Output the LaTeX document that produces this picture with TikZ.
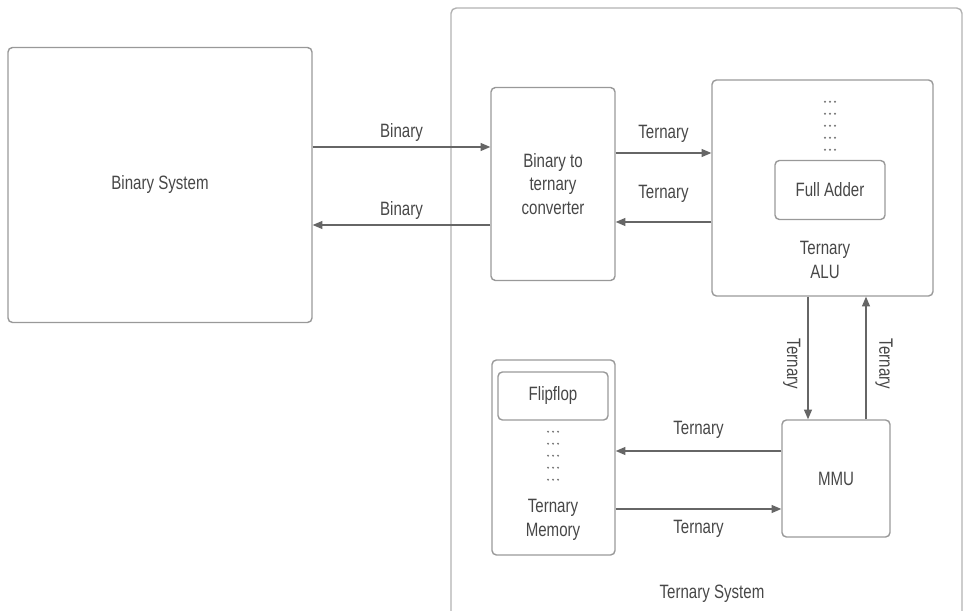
\documentclass[tikz,border=0pt]{standalone}
\usepackage{fontspec}
\setmainfont[FakeStretch=0.78]{Liberation Sans}
\usetikzlibrary{calc, positioning}
\usetikzlibrary{arrows.meta}
\tikzset{>={Triangle[width=4.5pt,length=5.5pt]}}

\begin{document}
\begin{tikzpicture}[x=0.02cm, y=-0.02cm, font=\fontsize{11}{13.5}\selectfont, text=black!72,
    block/.style={draw=black!40, line width=0.8pt, rounded corners=2.5pt, align=center, inner sep=0pt},
    tag/.style={draw=none, fill=none, inner sep=0pt},
    link/.style={->, draw=black!60, line width=0.7pt},
    dot/.style={fill=black!55}]

    \useasboundingbox (0,0) rectangle (965,611);

    %Outer ternary system frame (runs off the bottom)
    \draw[draw=black!30, line width=0.8pt, rounded corners=3pt] (451,650) -- (451,8) -- (962,8) -- (962,650);
    \node[tag](ternsys) at (712,594){Ternary System};

    %Nodes
    \node[block, minimum width=6.08cm, minimum height=5.5cm](binsys) at (160,185){Binary System};
    \node[block, minimum width=2.48cm, minimum height=3.86cm](conv) at (553,184){Binary to\\ternary\\converter};
    \node[block, minimum width=4.42cm, minimum height=4.32cm](alu) at (822.5,188){};
    \node[block, minimum width=2.2cm, minimum height=1.18cm](adder) at (830,190){Full Adder};
    \node[tag, align=center](alu_text) at (825,260){Ternary\\ALU};
    \node[block, minimum width=2.46cm, minimum height=3.9cm](mem) at (553.5,457.5){};
    \node[block, minimum width=2.2cm, minimum height=0.96cm](flipflop) at (553,396){Flipflop};
    \node[tag, align=center](mem_text) at (553,520){Ternary\\Memory};
    \node[block, minimum width=2.16cm, minimum height=2.34cm](mmu) at (836,478.5){MMU};

    %Dotted stacks
    \foreach \r in {0,...,4}
      \foreach \c in {-5,0,5} {
        \fill[dot] ($(adder.north)+(\c,-10-12*\r)$) circle (0.6pt);
        \fill[dot] ($(flipflop.south)+(\c,11+12*\r)$) circle (0.6pt);
      }

    %Port coordinates
    \coordinate (conv_in) at ($(conv.west)+(0,-37)$);
    \coordinate (bin_in) at ($(binsys.east)+(0,40)$);
    \coordinate (alu_in) at ($(alu.west)+(0,-35)$);
    \coordinate (conv_back) at ($(conv.east)+(0,38)$);
    \coordinate (mmu_in) at ($(mmu.north)+(-28,0)$);
    \coordinate (alu_back) at ($(mmu.north)+(30,0)$);
    \coordinate (mem_in) at ($(mem.east)+(0,-6.5)$);
    \coordinate (mmu_back) at ($(mmu.west)+(0,30.5)$);

    %Lines
    \draw[link] (binsys.east |- conv_in) -- node[tag, above=3pt]{Binary} (conv_in);
    \draw[link] (conv.west |- bin_in) -- node[tag, above=3pt]{Binary} (bin_in);
    \draw[link] (conv.east |- alu_in) -- node[tag, above=5.5pt]{Ternary} (alu_in);
    \draw[link] (alu.west |- conv_back) -- node[tag, above=11pt]{Ternary} (conv_back);
    \draw[link] (alu.south -| mmu_in) -- node[tag, pos=0.55, rotate=-90, anchor=north, inner sep=4pt]{Ternary} (mmu_in);
    \draw[link] (alu_back) -- node[tag, pos=0.45, rotate=-90, anchor=south, inner sep=5pt]{Ternary} (alu.south -| alu_back);
    \draw[link] (mmu.west |- mem_in) -- node[tag, above=7pt]{Ternary} (mem_in);
    \draw[link] (mem.east |- mmu_back) -- node[tag, below=6pt]{Ternary} (mmu_back);

\end{tikzpicture}
\end{document}
